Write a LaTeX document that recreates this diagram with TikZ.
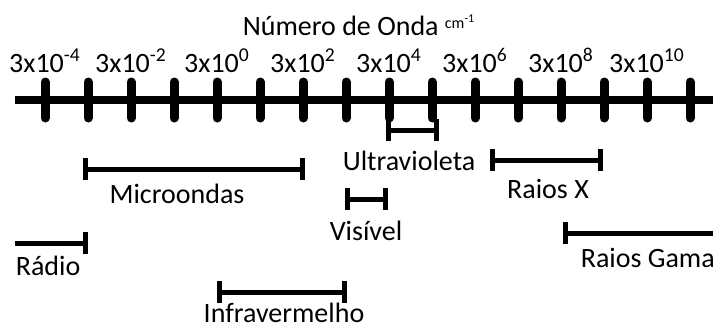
\documentclass[tikz,border=0pt]{standalone}
\usepackage{fontspec}
\setmainfont{Carlito}
\usetikzlibrary{arrows.meta}

\tikzset{
  faixa/.style={line width=2.5pt},
  capa/.tip={Bar[width=11pt]},
  rotulo/.style={font=\fontsize{14}{16}\selectfont, inner sep=0pt, anchor=base}
}

\begin{document}
\begin{tikzpicture}[x=0.5pt, y=-0.5pt, thick]
  \useasboundingbox (0,0) rectangle (713,327);
  \draw[line width=4pt] (15,100) -- (713,100);
  \foreach \i in {0,...,15}
    \draw[line width=4.5pt, line cap=round] ({45+43*\i},82) -- ({45+43*\i},118);
  \foreach \i/\e in {0/-4,2/-2,4/0,6/2,8/4,10/6,12/8,14/10}
    \node[rotulo] (onda\i) at ({45+43*\i},72) {3x10\textsuperscript{\e}};
  \node[rotulo, anchor=base west] (titulo) at (242,35)
    {Número de Onda \raisebox{0.5ex}{\fontsize{8}{9}\selectfont cm\textsuperscript{-1}}};
  \draw[faixa, arrows={-capa}] (15,243) -- (88,243);
  \draw[faixa, arrows={capa-capa}] (83,169) -- (305,169);
  \draw[faixa, arrows={capa-capa}] (217,292) -- (347,292);
  \draw[faixa, arrows={capa-capa}] (345,199) -- (388,199);
  \draw[faixa, arrows={capa-capa}] (386,130) -- (439,130);
  \draw[faixa, arrows={capa-capa}] (490,160) -- (603,160);
  \draw[faixa, arrows={capa-}] (563,233) -- (713,233);
  \node[rotulo, anchor=base west] (radio) at (15,275) {Rádio};
  \node[rotulo] (micro) at (177,203) {Microondas};
  \node[rotulo] (infra) at (284,322) {Infravermelho};
  \node[rotulo] (visivel) at (366,240) {Visível};
  \node[rotulo] (ultra) at (409,170) {Ultravioleta};
  \node[rotulo] (raiosx) at (548,198) {Raios X};
  \node[rotulo, anchor=base west] (gama) at (580,267) {Raios Gama};
\end{tikzpicture}
\end{document}
